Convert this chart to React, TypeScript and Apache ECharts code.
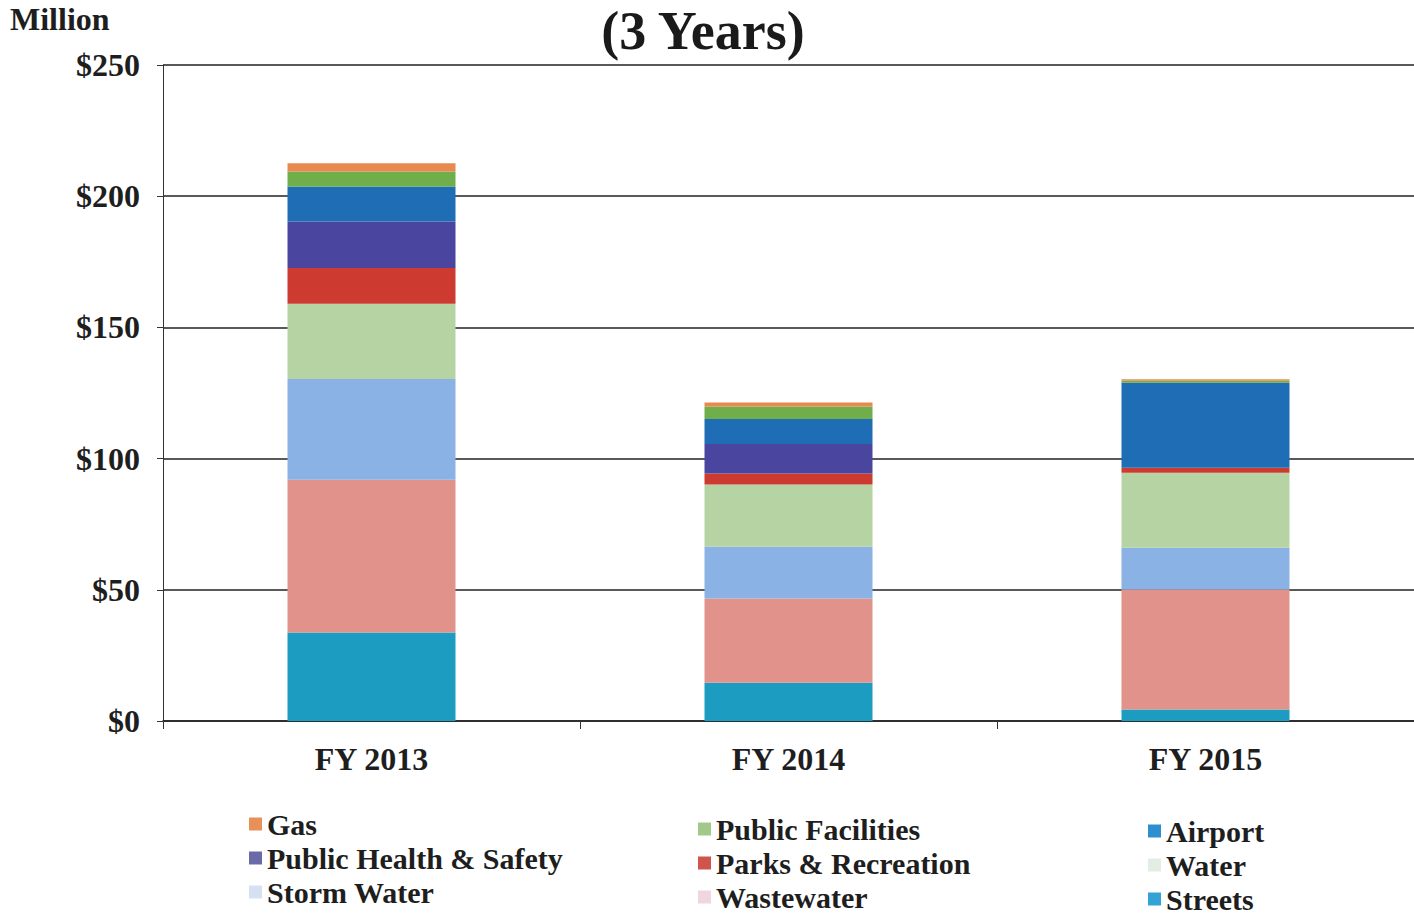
import React, { useEffect, useRef } from "react";
import * as echarts from "echarts";

const categories = ["FY 2013", "FY 2014", "FY 2015"];
const yTicks = [0, 50, 100, 150, 200, 250];

const streets = [33.7, 14.6, 4.4];
const wastewater = [58.2, 32.1, 45.7];
const stormWater = [38.4, 19.7, 15.9];
const water = [28.7, 23.7, 28.6];
const parksRecreation = [13.6, 4.2, 1.9];
const publicHealthSafety = [17.8, 11.3, 0];
const airport = [13.3, 9.5, 32.4];
const publicFacilities = [5.7, 4.8, 0.8];
const gas = [3.2, 1.5, 0.5];

const FONT = "'Liberation Serif', 'DejaVu Serif', serif";

const seriesDefs = [
  { name: "Streets", data: streets, color: "#1b9cc0", legend: "#33a3d6" },
  { name: "Wastewater", data: wastewater, color: "#e1938b", legend: "#f0d6de" },
  { name: "Storm Water", data: stormWater, color: "#8ab2e4", legend: "#d6e0f3" },
  { name: "Water", data: water, color: "#b5d3a3", legend: "#e3ede3" },
  { name: "Parks & Recreation", data: parksRecreation, color: "#cc3a30", legend: "#d0544c" },
  { name: "Public Health & Safety", data: publicHealthSafety, color: "#4a46a0", legend: "#6a6aa8" },
  { name: "Airport", data: airport, color: "#1f6db5", legend: "#2d8fd0" },
  { name: "Public Facilities", data: publicFacilities, color: "#6fae4a", legend: "#a2c98a" },
  { name: "Gas", data: gas, color: "#e88a50", legend: "#e8905a" },
];

const legendCols = [
  ["Gas", "Public Health & Safety", "Storm Water"],
  ["Public Facilities", "Parks & Recreation", "Wastewater"],
  ["Airport", "Water", "Streets"],
];
const legendLeft = [249, 698, 1148];
const legendCenterTop = [824, 829, 831];
const legendRowStep = 34;

export default function App() {
  const ref = useRef<HTMLDivElement>(null);
  useEffect(() => {
    if (!ref.current) return;
    const chart = echarts.init(ref.current, undefined, { renderer: "svg" });
    const legendColor = (n: string) => seriesDefs.find((s) => s.name === n)!.legend;
    const legends: any[] = [];
    legendCols.forEach((col, i) => {
      col.forEach((n, r) => {
        legends.push({
          orient: "vertical",
          left: legendLeft[i],
          top: legendCenterTop[i] + r * legendRowStep - 15,
          padding: 0,
          itemWidth: 13,
          itemHeight: 13,
          icon: "rect",
          selectedMode: false,
          textStyle: {
            fontFamily: FONT,
            fontWeight: "bold",
            fontSize: 30,
            color: "#1e1e1e",
            lineHeight: 30,
          },
          data: [{ name: n, itemStyle: { color: legendColor(n) } }],
        });
      });
    });
    chart.setOption({
      animation: false,
      backgroundColor: "#ffffff",
      grid: { left: 163, right: 0, top: 65, bottom: 195 },
      xAxis: {
        type: "category",
        data: categories,
        axisLine: { lineStyle: { color: "#222", width: 1.5 } },
        axisTick: { show: true, length: 8, lineStyle: { color: "#333" } },
        axisLabel: {
          fontFamily: FONT,
          fontWeight: "bold",
          fontSize: 32,
          color: "#1e1e1e",
          margin: 22,
        },
      },
      yAxis: {
        type: "value",
        min: yTicks[0],
        max: yTicks[yTicks.length - 1],
        interval: 50,
        axisLine: { show: true, lineStyle: { color: "#333", width: 1 } },
        axisTick: { show: true, length: 6, lineStyle: { color: "#333" } },
        splitLine: { lineStyle: { color: "#222", width: 1.5 } },
        axisLabel: {
          fontFamily: FONT,
          fontWeight: "bold",
          fontSize: 32,
          color: "#1e1e1e",
          margin: 23,
          formatter: (v: number) => "$" + v,
        },
      },
      legend: legends,
      graphic: [
        {
          type: "text",
          style: {
            text: "(3 Years)",
            x: 703,
            y: 4,
            align: "center",
            verticalAlign: "top",
            font: `bold 54px ${FONT}`,
            fill: "#1a1a1a",
          },
        },
        {
          type: "text",
          style: {
            text: "Million",
            x: 10,
            y: 19,
            align: "left",
            verticalAlign: "middle",
            font: `bold 32px ${FONT}`,
            fill: "#1e1e1e",
          },
        },
      ],
      series: seriesDefs.map((s) => ({
        name: s.name,
        type: "bar",
        stack: "total",
        barWidth: 168,
        data: s.data,
        itemStyle: { color: s.color },
      })),
    });
    return () => chart.dispose();
  }, []);
  return (
    <div
      ref={ref}
      style={{ position: "fixed", left: 0, top: 0, width: 1414, height: 916 }}
    />
  );
}
